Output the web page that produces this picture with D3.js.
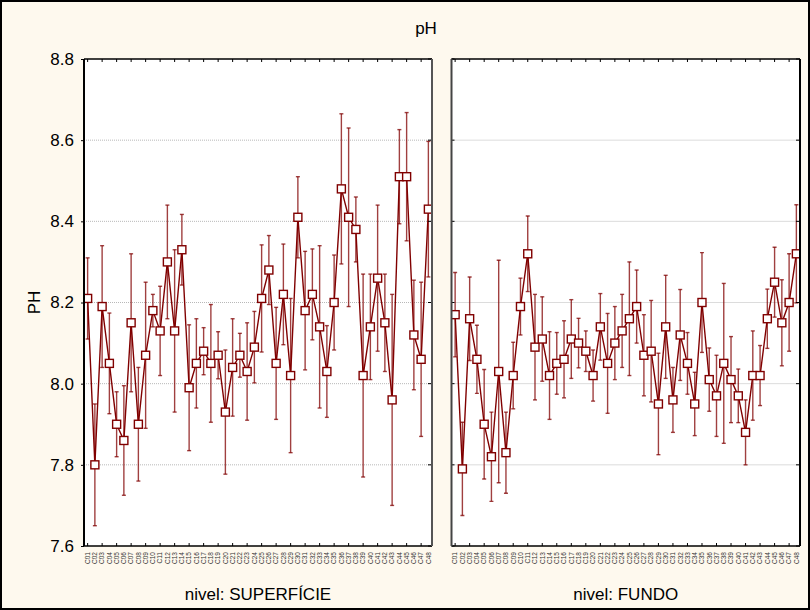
<!DOCTYPE html>
<html>
<head>
<meta charset="utf-8">
<script src="https://cdn.jsdelivr.net/npm/d3@7"></script>
<style>
  body { margin: 0; background: #fff; }
  svg { display: block; font-family: "Liberation Sans", Arial, sans-serif; }
</style>
</head>
<body>
<svg id="chart" width="810" height="610"></svg>
<script>
// Sample stations (same list in both depth levels)
const categories = [
  "C01","C02","C03","C04","C05","C06","C07","C08","C09","C10",
  "C11","C12","C13","C14","C15","C16","C17","C18","C19","C20",
  "C21","C22","C23","C24","C25","C26","C27","C28","C29","C30",
  "C31","C32","C33","C34","C35","C36","C37","C38","C39","C40",
  "C41","C42","C43","C44","C45","C46","C47","C48"
];

// Mean pH and half-width of the interval, surface level
const superficieMean = [
  8.21, 7.80, 8.19, 8.05, 7.90, 7.86, 8.15, 7.90, 8.07, 8.18,
  8.13, 8.30, 8.13, 8.33, 7.99, 8.05, 8.08, 8.05, 8.07, 7.93,
  8.04, 8.07, 8.03, 8.09, 8.21, 8.28, 8.05, 8.22, 8.02, 8.41,
  8.18, 8.22, 8.14, 8.03, 8.20, 8.48, 8.41, 8.38, 8.02, 8.14,
  8.26, 8.15, 7.96, 8.51, 8.51, 8.12, 8.06, 8.43
];
const superficieErr = [
  0.10, 0.15, 0.15, 0.124, 0.08, 0.135, 0.17, 0.14, 0.18, 0.04,
  0.11, 0.14, 0.20, 0.087, 0.155, 0.11, 0.058, 0.145, 0.058, 0.153,
  0.12, 0.054, 0.12, 0.088, 0.132, 0.085, 0.138, 0.124, 0.19, 0.10,
  0.146, 0.112, 0.20, 0.113, 0.117, 0.185, 0.22, 0.08, 0.25, 0.13,
  0.18, 0.12, 0.26, 0.116, 0.158, 0.135, 0.19, 0.167
];

// Mean pH and half-width of the interval, bottom level
const fundoMean = [
  8.17, 7.79, 8.16, 8.06, 7.90, 7.82, 8.03, 7.83, 8.02, 8.19,
  8.32, 8.09, 8.11, 8.02, 8.05, 8.06, 8.11, 8.10, 8.08, 8.02,
  8.14, 8.05, 8.10, 8.13, 8.16, 8.19, 8.07, 8.08, 7.95, 8.14,
  7.96, 8.12, 8.05, 7.95, 8.20, 8.01, 7.97, 8.05, 8.01, 7.97,
  7.88, 8.02, 8.02, 8.16, 8.25, 8.15, 8.20, 8.32
];
const fundoErr = [
  0.104, 0.115, 0.103, 0.084, 0.135, 0.11, 0.274, 0.10, 0.082, 0.07,
  0.093, 0.13, 0.104, 0.108, 0.076, 0.095, 0.097, 0.061, 0.05, 0.063,
  0.082, 0.123, 0.09, 0.09, 0.14, 0.09, 0.10, 0.125, 0.125, 0.127,
  0.08, 0.112, 0.076, 0.078, 0.123, 0.078, 0.10, 0.197, 0.106, 0.066,
  0.08, 0.11, 0.074, 0.073, 0.086, 0.106, 0.12, 0.121
];

const yTickValues = [7.6, 7.8, 8.0, 8.2, 8.4, 8.6, 8.8];
const yTickLabels = ["7.6", "7.8", "8.0", "8.2", "8.4", "8.6", "8.8"];
const panelTitles = ["nivel: SUPERFÍCIE", "nivel: FUNDO"];
const chartTitle = "pH";
const yAxisTitle = "PH";

const W = 810, H = 610;
const plotTop = 59, plotBottom = 546;
const panels = [
  { x0: 84, x1: 432, mean: superficieMean, err: superficieErr, title: panelTitles[0], first: true },
  { x0: 451.5, x1: 800, mean: fundoMean, err: fundoErr, title: panelTitles[1], first: false }
];

const lineColor = "#800000";
const barColor = "rgba(128,0,0,0.75)";
const labelFont = 17;

const svg = d3.select("#chart");

// page background and outer frame
svg.append("rect").attr("x", 0).attr("y", 0).attr("width", W).attr("height", H)
  .attr("fill", "#fef9ee");
svg.append("rect").attr("x", 1).attr("y", 1).attr("width", W - 2).attr("height", H - 2)
  .attr("fill", "none").attr("stroke", "#000").attr("stroke-width", 2);

svg.append("text").attr("x", 426).attr("y", 34).attr("text-anchor", "middle")
  .attr("font-size", labelFont).attr("fill", "#000").text(chartTitle);

svg.append("text")
  .attr("transform", "translate(40," + ((plotTop + plotBottom) / 2) + ") rotate(-90)")
  .attr("text-anchor", "middle").attr("font-size", labelFont).attr("fill", "#000").text(yAxisTitle);

const y = d3.scaleLinear().domain([7.6, 8.8]).range([plotBottom, plotTop]);

svg.append("defs").selectAll("clipPath").data(panels).join("clipPath")
  .attr("id", (d, i) => "clip" + i)
  .append("rect")
  .attr("x", d => d.x0).attr("y", plotTop)
  .attr("width", d => d.x1 - d.x0).attr("height", plotBottom - plotTop);

panels.forEach((p, pi) => {
  const x = d3.scalePoint().domain(categories).range([p.x0, p.x1]).padding(0.5);
  const g = svg.append("g");

  g.append("rect").attr("x", p.x0).attr("y", plotTop)
    .attr("width", p.x1 - p.x0).attr("height", plotBottom - plotTop).attr("fill", "#fff");

  // horizontal grid
  g.append("g").selectAll("line").data(yTickValues.slice(1, -1)).join("line")
    .attr("x1", p.x0).attr("x2", p.x1)
    .attr("y1", d => y(d)).attr("y2", d => y(d))
    .attr("stroke", "#b8b8b8").attr("stroke-width", 1).attr("stroke-dasharray", "1,1");

  const data = categories.map((c, i) => ({ c, m: p.mean[i], e: p.err[i] }));
  const inner = g.append("g").attr("clip-path", "url(#clip" + pi + ")");

  // interval whiskers
  const bars = inner.append("g").attr("stroke", barColor).attr("stroke-width", 1.4);
  bars.selectAll("line.v").data(data).join("line").attr("class", "v")
    .attr("x1", d => x(d.c)).attr("x2", d => x(d.c))
    .attr("y1", d => y(d.m + d.e)).attr("y2", d => y(d.m - d.e));
  bars.selectAll("line.t").data(data).join("line").attr("class", "t")
    .attr("x1", d => x(d.c) - 2).attr("x2", d => x(d.c) + 2)
    .attr("y1", d => y(d.m + d.e)).attr("y2", d => y(d.m + d.e));
  bars.selectAll("line.b").data(data).join("line").attr("class", "b")
    .attr("x1", d => x(d.c) - 2).attr("x2", d => x(d.c) + 2)
    .attr("y1", d => y(d.m - d.e)).attr("y2", d => y(d.m - d.e));

  // mean line
  inner.append("path").datum(data)
    .attr("d", d3.line().x(d => x(d.c)).y(d => y(d.m)))
    .attr("fill", "none").attr("stroke", lineColor).attr("stroke-width", 1.4);

  // square markers
  inner.selectAll("rect.pt").data(data).join("rect").attr("class", "pt")
    .attr("x", d => x(d.c) - 4).attr("y", d => y(d.m) - 4)
    .attr("width", 8).attr("height", 8)
    .attr("fill", "#fff").attr("stroke", lineColor).attr("stroke-width", 1.4);

  // top / bottom ticks on every other station
  const xt = categories.filter((c, i) => i % 2 === 0);
  g.append("g").selectAll("line").data(xt).join("line")
    .attr("x1", d => x(d)).attr("x2", d => x(d))
    .attr("y1", plotTop).attr("y2", plotTop + 3)
    .attr("stroke", "#000").attr("stroke-width", 1);
  g.append("g").selectAll("line").data(xt).join("line")
    .attr("x1", d => x(d)).attr("x2", d => x(d))
    .attr("y1", plotBottom).attr("y2", plotBottom - 3)
    .attr("stroke", "#000").attr("stroke-width", 1);

  // side ticks
  g.append("g").selectAll("line").data(yTickValues).join("line")
    .attr("x1", p.x1).attr("x2", p.x1 - 4)
    .attr("y1", d => y(d)).attr("y2", d => y(d))
    .attr("stroke", "#000").attr("stroke-width", 1);
  if (!p.first) {
    g.append("g").selectAll("line").data(yTickValues).join("line")
      .attr("x1", p.x0).attr("x2", p.x0 + 3)
      .attr("y1", d => y(d)).attr("y2", d => y(d))
      .attr("stroke", "#000").attr("stroke-width", 1);
  }

  // frame
  g.append("line").attr("x1", p.x0).attr("x2", p.x1).attr("y1", plotTop).attr("y2", plotTop)
    .attr("stroke", "#000").attr("stroke-width", 1.5);
  g.append("line").attr("x1", p.x0).attr("x2", p.x1).attr("y1", plotBottom).attr("y2", plotBottom)
    .attr("stroke", "#000").attr("stroke-width", 1.5);
  g.append("line").attr("x1", p.x0).attr("x2", p.x0).attr("y1", plotTop).attr("y2", plotBottom)
    .attr("stroke", p.first ? "#000" : "#444").attr("stroke-width", 2);
  g.append("line").attr("x1", p.x1).attr("x2", p.x1).attr("y1", plotTop).attr("y2", plotBottom)
    .attr("stroke", p.first ? "#555" : "#000").attr("stroke-width", 2);

  // station labels
  g.append("g").selectAll("text").data(categories).join("text")
    .attr("transform", d => "translate(" + (x(d) + 2.3) + "," + (plotBottom + 6) + ") rotate(-90)")
    .attr("text-anchor", "end").attr("font-size", 6.5).attr("fill", "#333").text(d => d);

  svg.append("text").attr("x", (p.x0 + p.x1) / 2).attr("y", 600)
    .attr("text-anchor", "middle").attr("font-size", labelFont).attr("fill", "#000").text(p.title);
});

// y axis on the first panel
const yAxis = d3.axisLeft(y).tickValues(yTickValues)
  .tickFormat((d, i) => yTickLabels[i]).tickSize(3).tickPadding(7);
const ya = svg.append("g").attr("transform", "translate(" + panels[0].x0 + ",0)").call(yAxis);
ya.select(".domain").remove();
ya.selectAll("line").attr("stroke", "#000");
ya.selectAll("text").attr("font-size", labelFont).attr("fill", "#000")
  .attr("font-family", "'Liberation Sans', Arial, sans-serif");
</script>
</body>
</html>
